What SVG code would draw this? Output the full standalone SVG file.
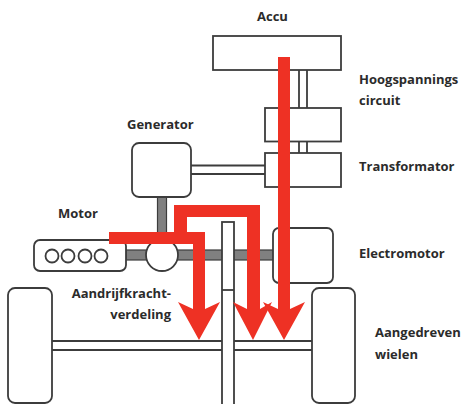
<svg xmlns="http://www.w3.org/2000/svg" width="464" height="404" viewBox="0 0 464 404">
<style>
.b{fill:#fff;stroke:#3c3c3c;stroke-width:1.8}
.l{fill:none;stroke:#3c3c3c;stroke-width:1.8}
.g{fill:#808080;stroke:#3c3c3c;stroke-width:1.2}
.r{fill:#ee3124}
text{font-family:"Open Sans","Liberation Sans",sans-serif;font-weight:700;font-size:13px;fill:#2b2b2b}
</style>
<rect width="464" height="404" fill="#fff"/>
<g id="connectors">
<path class="l" d="M299 70V108M307 70V108M299 141V153M307 141V153M191 165.500H265M191 174H265M52 341H312M52 350H312"/>
<rect class="g" x="157.500" y="197" width="9" height="45"/>
<rect class="g" x="126" y="250" width="148" height="10"/>
</g>
<g id="accu"><rect class="b" x="213" y="36" width="128" height="34"/></g>
<g id="hv1"><rect class="b" x="265" y="108" width="76" height="33.500"/></g>
<g id="transformator"><rect class="b" x="265" y="153" width="76" height="34"/></g>
<g id="generator"><rect class="b" x="132" y="143" width="59" height="54" rx="7"/></g>
<g id="motor"><rect class="b" x="34" y="240" width="92" height="31" rx="6"/>
<circle class="b" cx="52" cy="256" r="6.500"/><circle class="b" cx="68" cy="256" r="6.500"/><circle class="b" cx="85" cy="256" r="6.500"/><circle class="b" cx="101" cy="256" r="6.500"/></g>
<g id="splitter"><circle class="b" cx="162" cy="255" r="16"/></g>
<g id="electromotor"><rect class="b" x="273" y="228" width="60" height="55" rx="6"/></g>
<g id="wheel-left"><rect class="b" x="8" y="288" width="44" height="115" rx="7"/></g>
<g id="wheel-right"><rect class="b" x="312" y="288" width="43" height="115" rx="7"/></g>
<g id="gearbox"><rect class="b" x="222" y="222" width="12" height="190"/><path class="l" d="M222 290H234"/></g>
<g id="flows">
<path class="r" d="M109 232H205V309L220 302 199 340 178 302 193 309V244H109Z"/>
<path class="r" d="M174 232V205H260V309L272 302 253 340 233 302 247 309V217H187V232Z"/>
<path class="r" d="M278 57H290V309L305 302 284 340 263 302 278 309Z"/>
</g>
<g id="labels">
<text x="257" y="21">Accu</text>
<text x="359" y="84">Hoogspannings</text>
<text x="359" y="105">circuit</text>
<text x="359" y="171">Transformator</text>
<text x="127" y="129">Generator</text>
<text x="58" y="218">Motor</text>
<text x="359" y="258">Electromotor</text>
<text x="171" y="298" text-anchor="end">Aandrijfkracht-</text>
<text x="171" y="319" text-anchor="end">verdeling</text>
<text x="375" y="337">Aangedreven</text>
<text x="375" y="359">wielen</text>
</g>
</svg>
